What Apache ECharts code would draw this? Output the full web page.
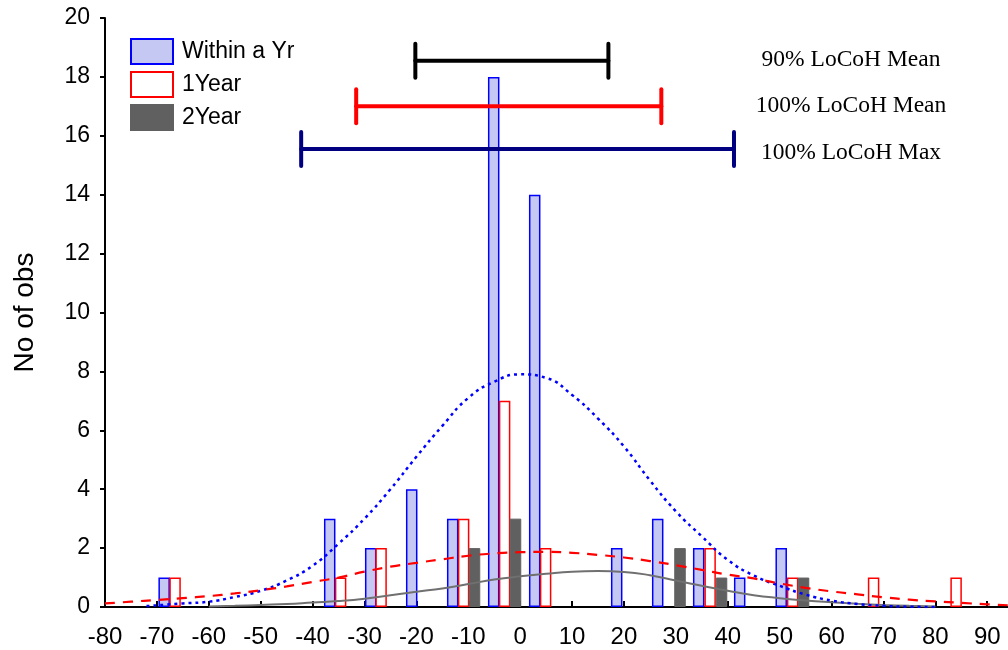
<!DOCTYPE html>
<html>
<head>
<meta charset="utf-8">
<script src="https://cdn.jsdelivr.net/npm/echarts@6/dist/echarts.min.js"></script>
<style>
html,body{margin:0;padding:0;background:#fff;}
#chart{width:1008px;height:650px;}
</style>
</head>
<body>
<div id="chart"></div>
<script>
// ---- data ----
const withinX = [-68.6, -36.7, -28.8, -20.9, -13.0, -5.1, 2.8, 18.6, 26.5, 34.4, 42.3, 50.3];
const withinN = [1, 3, 2, 4, 3, 18, 14, 2, 3, 2, 1, 2];
const year1X = [-66.5, -34.6, -26.8, -10.9, -3.0, 4.9, 36.6, 52.5, 68.1, 84.0];
const year1N = [1, 1, 2, 3, 7, 2, 2, 1, 1, 1];
const year2X = [-8.8, -0.9, 30.8, 38.8, 54.6];
const year2N = [2, 3, 2, 1, 1];

const withinFitX = [-72, -65, -60, -55, -50, -45, -40, -35, -30, -25, -20, -15, -10, -5, 0, 5, 10, 15, 20, 25, 30, 35, 40, 45, 50, 55, 60, 65, 70, 75, 80];
const withinFitY = [0.03, 0.12, 0.18, 0.34, 0.55, 0.9, 1.4, 2.15, 3.0, 4.0, 5.1, 6.15, 7.1, 7.65, 7.9, 7.78, 7.2, 6.4, 5.45, 4.3, 3.25, 2.4, 1.6, 1.07, 0.72, 0.42, 0.22, 0.1, 0.04, 0.01, 0.0];
const year1FitX = [-80, -75, -70, -65, -60, -55, -50, -45, -40, -35, -30, -25, -20, -15, -10, -5, 0, 5, 10, 15, 20, 25, 30, 35, 40, 45, 50, 55, 60, 65, 70, 75, 80, 85, 90, 94];
const year1FitY = [0.12, 0.18, 0.24, 0.3, 0.37, 0.46, 0.57, 0.7, 0.85, 1.0, 1.2, 1.37, 1.5, 1.62, 1.74, 1.82, 1.86, 1.87, 1.84, 1.77, 1.68, 1.56, 1.42, 1.26, 1.1, 0.97, 0.8, 0.65, 0.53, 0.43, 0.33, 0.25, 0.19, 0.14, 0.09, 0.06];
const year2FitX = [-60, -55, -50, -45, -40, -35, -30, -25, -20, -15, -10, -5, 0, 5, 10, 15, 20, 25, 30, 35, 40, 45, 50, 55, 60, 65, 70, 75, 80];
const year2FitY = [0.02, 0.04, 0.07, 0.1, 0.15, 0.2, 0.28, 0.4, 0.52, 0.63, 0.78, 0.93, 1.04, 1.13, 1.2, 1.22, 1.19, 1.08, 0.9, 0.72, 0.55, 0.4, 0.3, 0.22, 0.16, 0.11, 0.07, 0.04, 0.02];

const rangeNames = ['90% LoCoH Mean', '100% LoCoH Mean', '100% LoCoH Max'];
const rangeLow = [-20.2, -31.6, -42.2];
const rangeHigh = [17.0, 27.2, 41.2];
const rangeY = [18.55, 17.0, 15.55];
const rangeColors = ['#000000', '#ff0000', '#000080'];

const xTickMin = -80, xMax = 94, xStep = 10;
const yTickMin = 0, yMax = 20, yStep = 2;

// ---- build ----
const zip = (xs, ys) => xs.map((x, i) => [x, ys[i]]);
const chart = echarts.init(document.getElementById('chart'));

const rangeData = rangeLow.map((lo, i) => [lo, rangeHigh[i], rangeY[i], i]);

chart.setOption({
  animation: false,
  grid: { left: 105, right: 0, top: 18, bottom: 43, containLabel: false },
  legend: {
    orient: 'vertical', left: 130, top: 38, padding: 0,
    icon: 'rect',
    itemWidth: 42, itemHeight: 25, itemGap: 6,
    textStyle: { fontFamily: 'Liberation Sans, Arial', fontSize: 23, color: '#000', padding: [0, 0, 0, 4] },
    data: ['Within a Yr', '1Year', '2Year']
  },
  xAxis: {
    type: 'value', min: xTickMin, max: xMax, interval: xStep,
    axisLine: { onZero: false, lineStyle: { color: '#000', width: 2 } },
    axisTick: { inside: true, length: 6, lineStyle: { color: '#000', width: 2 } },
    axisLabel: { showMaxLabel: false, fontFamily: 'Liberation Sans Narrow, Arial Narrow, Liberation Sans', fontSize: 24, color: '#000', margin: 18 },
    splitLine: { show: false }
  },
  yAxis: {
    type: 'value', min: yTickMin, max: yMax, interval: yStep,
    name: 'No of obs', nameLocation: 'middle', nameGap: 66,
    nameTextStyle: { fontFamily: 'Liberation Sans, Arial', fontSize: 28, color: '#000' },
    axisLine: { show: true, onZero: false, lineStyle: { color: '#000', width: 2 } },
    axisTick: { show: true, inside: false, length: 5, lineStyle: { color: '#000', width: 2 } },
    axisLabel: { fontFamily: 'Liberation Sans, Arial', fontSize: 23, color: '#000', margin: 15 },
    splitLine: { show: false }
  },
  series: [
    {
      name: 'Within a Yr', type: 'bar', barWidth: 11.5, barGap: '-100%',
      itemStyle: { color: '#c6c8f4', borderColor: '#0000ff', borderWidth: 1.5 },
      data: zip(withinX, withinN), z: 2
    },
    {
      name: '1Year', type: 'bar', barWidth: 11.5, barGap: '-100%',
      itemStyle: { color: '#ffffff', borderColor: '#ff0000', borderWidth: 1.5 },
      data: zip(year1X, year1N), z: 2
    },
    {
      name: '2Year', type: 'bar', barWidth: 11.5, barGap: '-100%',
      itemStyle: { color: '#606060', borderColor: '#606060', borderWidth: 1 },
      data: zip(year2X, year2N), z: 2
    },
    {
      name: 'Within a Yr fit', type: 'line', smooth: true, showSymbol: false, symbol: 'none',
      lineStyle: { color: '#0000ff', width: 2.5, type: [3, 4] },
      data: zip(withinFitX, withinFitY), z: 4
    },
    {
      name: '1Year fit', type: 'line', smooth: true, showSymbol: false, symbol: 'none',
      lineStyle: { color: '#ff0000', width: 2.2, type: [10, 8] },
      data: zip(year1FitX, year1FitY), z: 4
    },
    {
      name: '2Year fit', type: 'line', smooth: true, showSymbol: false, symbol: 'none',
      lineStyle: { color: '#707070', width: 2 },
      data: zip(year2FitX, year2FitY), z: 3
    },
    {
      name: 'ranges', type: 'custom', z: 5,
      renderItem: function (params, api) {
        const lo = api.coord([api.value(0), api.value(2)]);
        const hi = api.coord([api.value(1), api.value(2)]);
        const col = rangeColors[api.value(3)];
        const h = 17;
        const st = { stroke: col, lineWidth: 4, lineCap: 'round' };
        return {
          type: 'group',
          children: [
            { type: 'line', shape: { x1: lo[0], y1: lo[1], x2: hi[0], y2: hi[1] }, style: st },
            { type: 'line', shape: { x1: lo[0], y1: lo[1] - h, x2: lo[0], y2: lo[1] + h }, style: st },
            { type: 'line', shape: { x1: hi[0], y1: hi[1] - h, x2: hi[0], y2: hi[1] + h }, style: st }
          ]
        };
      },
      data: rangeData
    }
  ],
  graphic: rangeNames.map((t, i) => ({
    type: 'text', x: 851, y: [60, 106, 153][i],
    style: { text: t, fontFamily: 'Liberation Serif, Times New Roman', fontSize: 23.5, fill: '#000', textAlign: 'center', textVerticalAlign: 'middle' }
  }))
});
</script>
</body>
</html>
